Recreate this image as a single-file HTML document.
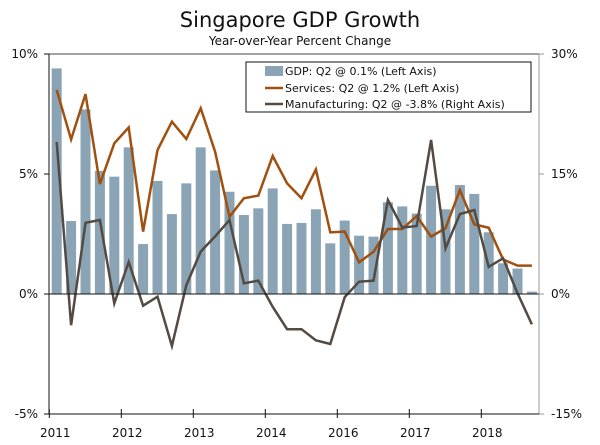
<!DOCTYPE html>
<html><head><meta charset="utf-8"><style>
html,body{margin:0;padding:0;background:#fff;}
svg{display:block;font-family:"DejaVu Sans","Liberation Sans",sans-serif;}
</style></head><body>
<svg id="chart" width="600" height="445" viewBox="0 0 600 445">
<text x="300" y="27" text-anchor="middle" font-size="21" fill="#111">Singapore GDP Growth</text>
<text x="300" y="45" text-anchor="middle" font-size="12" fill="#111">Year-over-Year Percent Change</text>
<g id="grid"></g>
<g id="bars"></g>
<g id="lines"></g>
<g id="axes"></g>
<g>
<rect x="246" y="62" width="285" height="50" fill="#fff" stroke="#111" stroke-width="1"/>
<rect x="265" y="66" width="18" height="10" fill="#8aa4b5"/>
<text x="285" y="75" font-size="11" fill="#111">GDP: Q2 @ 0.1% (Left Axis)</text>
<line x1="265" y1="88" x2="283" y2="88" stroke="#a0500f" stroke-width="2.5"/>
<text x="285" y="92" font-size="11" fill="#111">Services: Q2 @ 1.2% (Left Axis)</text>
<line x1="265" y1="104" x2="283" y2="104" stroke="#544a42" stroke-width="2.5"/>
<text x="285" y="108" font-size="11" fill="#111">Manufacturing: Q2 @ -3.8% (Right Axis)</text>
</g>
</svg>
<script>
const gdp = [9.4,3.04,7.69,5.13,4.89,6.11,2.08,4.71,3.33,4.61,6.11,5.15,4.26,3.29,3.57,4.40,2.92,2.96,3.53,2.11,3.06,2.43,2.39,3.82,3.65,3.35,4.51,3.53,4.54,4.17,2.57,1.28,1.06,0.1];
const services = [8.5,6.44,8.33,4.58,6.28,6.94,2.6,6.0,7.18,6.46,7.74,5.93,3.22,3.99,4.10,5.75,4.61,3.99,5.19,2.57,2.6,1.32,1.76,2.71,2.71,3.25,2.39,2.74,4.33,2.9,2.76,1.44,1.18,1.18];
const manufacturing = [19.0,-3.9,8.9,9.25,-1.17,4.0,-1.46,-0.33,-6.5,1.1,5.3,7.2,9.25,1.33,1.67,-1.6,-4.4,-4.4,-5.8,-6.25,-0.4,1.54,1.67,11.75,8.3,8.5,19.25,5.7,10.0,10.5,3.4,4.46,0.1,-3.8];
const yearLabels = ["2011","2012","2013","2014","2016","2017","2018"];
const leftTicks = [10,5,0,-5];
const leftTickLabels = ["10%","5%","0%","-5%"];
const rightTicks = [30,15,0,-15];
const rightTickLabels = ["30%","15%","0%","-15%"];

const NS="http://www.w3.org/2000/svg";
const X0=49, X1=539, YT=54, YB=414;
const yL = v => 294 - v*24;
const yR = v => 294 - v*8;
const xQ = i => 56.7 + i*14.4;
const xYear = k => 49.3 + k*72;
function mk(tag, attrs, parent){const e=document.createElementNS(NS,tag);for(const k in attrs)e.setAttribute(k,attrs[k]);parent.appendChild(e);return e;}
const bars=document.getElementById('bars'), lines=document.getElementById('lines'), axes=document.getElementById('axes');

gdp.forEach((v,i)=>{
  const y0=yL(0), y1=yL(v);
  const r=mk('rect',{x:xQ(i)-5,y:Math.min(y0,y1),width:10,height:Math.abs(y1-y0),fill:'#8aa4b5'},bars);
  
  
});
const sp=mk('polyline',{points:services.map((v,i)=>xQ(i)+','+yL(v)).join(' '),fill:'none',stroke:'#a0500f','stroke-width':2.5,'stroke-linejoin':'miter'},lines);


const mp=mk('polyline',{points:manufacturing.map((v,i)=>xQ(i)+','+yR(v)).join(' '),fill:'none',stroke:'#544a42','stroke-width':2.5},lines);



mk('line',{x1:X0,y1:yL(0),x2:X1,y2:yL(0),stroke:'#111','stroke-width':1},axes);
mk('line',{x1:X0,y1:YT,x2:X1,y2:YT,stroke:'#444','stroke-width':1},axes);
mk('line',{x1:X0,y1:YT,x2:X0,y2:YB,stroke:'#111','stroke-width':1},axes);
mk('line',{x1:X1,y1:YT,x2:X1,y2:YB,stroke:'#999','stroke-width':1},axes);
mk('line',{x1:X0,y1:YB,x2:X1,y2:YB,stroke:'#111','stroke-width':1},axes);
leftTicks.forEach((v,i)=>{
  mk('line',{x1:X0-5,y1:yL(v),x2:X0,y2:yL(v),stroke:'#111'},axes);
  const t=mk('text',{x:38,y:yL(v)+4,'text-anchor':'end','font-size':12,fill:'#111'},axes);
  t.textContent=leftTickLabels[i];
  
  
});
rightTicks.forEach((v,i)=>{
  mk('line',{x1:X1,y1:yR(v),x2:X1+5,y2:yR(v),stroke:'#999'},axes);
  const t=mk('text',{x:551,y:yR(v)+4,'font-size':12,fill:'#111'},axes);
  t.textContent=rightTickLabels[i];
  
  
});
yearLabels.forEach((lab,k)=>{
  const x=xYear(k);
  mk('line',{x1:x,y1:YB-5,x2:x,y2:YB+4,stroke:'#111'},axes);
  const t=mk('text',{x:x+6,y:437,'text-anchor':'middle','font-size':12,fill:'#111'},axes);
  t.textContent=lab;
  
  
});
</script>
</body></html>
